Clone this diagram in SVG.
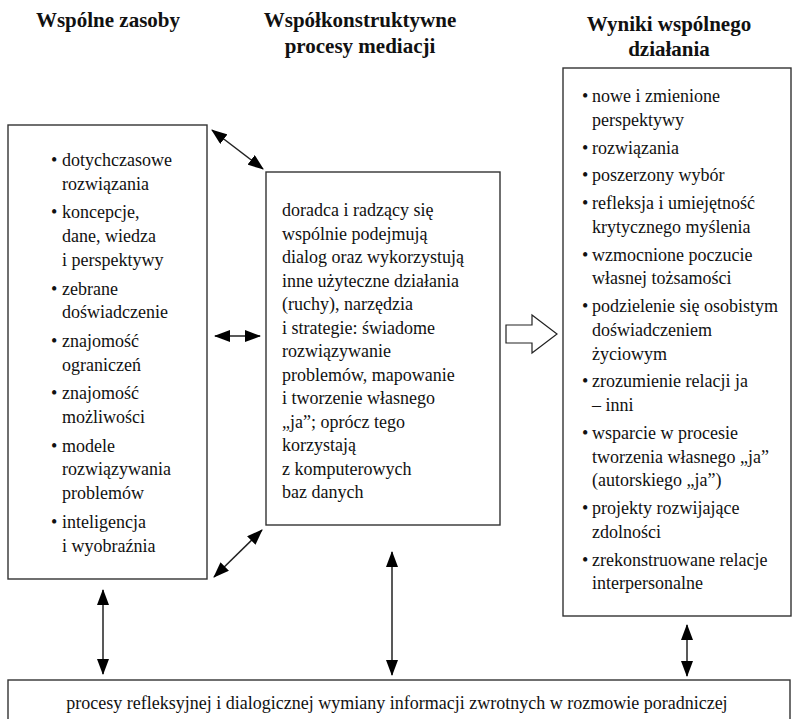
<svg xmlns="http://www.w3.org/2000/svg" width="793" height="719" viewBox="0 0 793 719">
<defs>
<marker id="ah" markerUnits="userSpaceOnUse" markerWidth="16" markerHeight="12" viewBox="0 0 16 12" refX="15" refY="6" orient="auto-start-reverse">
<path d="M0,0 L16,6 L0,12 z" fill="#000"/>
</marker>
<style>
.box{fill:#fff;stroke:#333;stroke-width:1.4}
.t{font-family:'Liberation Serif',Tinos,'Times New Roman','DejaVu Serif',serif;font-size:18px;fill:#111}
.h{font-family:'Liberation Serif',Tinos,'Times New Roman','DejaVu Serif',serif;font-size:21px;font-weight:bold;fill:#111;text-anchor:middle}
.c{stroke:#222;stroke-width:1.5;fill:none;marker-start:url(#ah);marker-end:url(#ah)}
</style>
</defs>
<rect width="793" height="719" fill="#fff"/>

<g id="titles" font-family="Liberation Serif, serif">
<text class="h" x="108" y="27">Wspólne zasoby</text>
<text class="h" x="360" y="27">Współkonstruktywne</text>
<text class="h" x="360" y="53">procesy mediacji</text>
<text class="h" x="669" y="31">Wyniki wspólnego</text>
<text class="h" x="669" y="56">działania</text>
</g>

<g id="connectors">
<line class="c" x1="212" y1="130" x2="263" y2="169"/>
<line class="c" x1="215" y1="336" x2="260" y2="336"/>
<line class="c" x1="214" y1="577" x2="262" y2="530"/>
<line class="c" x1="103" y1="590" x2="103" y2="674"/>
<line class="c" x1="392" y1="552" x2="392" y2="675"/>
<line class="c" x1="687" y1="625" x2="687" y2="676"/>
<polygon points="506,325 532,325 532,315 557,334 532,353 532,343 506,343" fill="#fff" stroke="#222" stroke-width="1.2"/>
</g>

<g id="resources">
<rect class="box" x="8" y="125" width="199" height="454"/>
<g class="t" font-family="Liberation Serif, serif">
<text x="51" y="166">•</text><text x="62" y="166">dotychczasowe</text>
<text x="62" y="189.7">rozwiązania</text>
<text x="51" y="218.4">•</text><text x="62" y="218.4">koncepcje,</text>
<text x="62" y="242.1">dane, wiedza</text>
<text x="62" y="265.8">i perspektywy</text>
<text x="51" y="294.5">•</text><text x="62" y="294.5">zebrane</text>
<text x="62" y="318.2">doświadczenie</text>
<text x="51" y="346.9">•</text><text x="62" y="346.9">znajomość</text>
<text x="62" y="370.6">ograniczeń</text>
<text x="51" y="399.3">•</text><text x="62" y="399.3">znajomość</text>
<text x="62" y="423">możliwości</text>
<text x="51" y="451.7">•</text><text x="62" y="451.7">modele</text>
<text x="62" y="475.4">rozwiązywania</text>
<text x="62" y="499.1">problemów</text>
<text x="51" y="527.8">•</text><text x="62" y="527.8">inteligencja</text>
<text x="62" y="551.5">i wyobraźnia</text>
</g>
</g>

<g id="mediation">
<rect class="box" x="266" y="172" width="234" height="353"/>
<g class="t" font-family="Liberation Serif, serif">
<text x="282" y="216">doradca i radzący się</text>
<text x="282" y="239.5">wspólnie podejmują</text>
<text x="282" y="263">dialog oraz wykorzystują</text>
<text x="282" y="286.5">inne użyteczne działania</text>
<text x="282" y="310">(ruchy), narzędzia</text>
<text x="282" y="333.5">i strategie: świadome</text>
<text x="282" y="357">rozwiązywanie</text>
<text x="282" y="380.5">problemów, mapowanie</text>
<text x="282" y="404">i tworzenie własnego</text>
<text x="282" y="427.5">„ja”; oprócz tego</text>
<text x="282" y="451">korzystają</text>
<text x="282" y="474.5">z komputerowych</text>
<text x="282" y="498">baz danych</text>
</g>
</g>

<g id="results">
<rect class="box" x="563" y="68" width="228" height="548"/>
<g class="t" font-family="Liberation Serif, serif">
<text x="582" y="102">•</text><text x="592" y="102">nowe i zmienione</text>
<text x="592" y="125.7">perspektywy</text>
<text x="582" y="153.5">•</text><text x="592" y="153.5">rozwiązania</text>
<text x="582" y="181.3">•</text><text x="592" y="181.3">poszerzony wybór</text>
<text x="582" y="209.1">•</text><text x="592" y="209.1">refleksja i umiejętność</text>
<text x="592" y="232.8">krytycznego myślenia</text>
<text x="582" y="260.6">•</text><text x="592" y="260.6">wzmocnione poczucie</text>
<text x="592" y="284.3">własnej tożsamości</text>
<text x="582" y="312.1">•</text><text x="592" y="312.1">podzielenie się osobistym</text>
<text x="592" y="335.8">doświadczeniem</text>
<text x="592" y="359.5">życiowym</text>
<text x="582" y="387.3">•</text><text x="592" y="387.3">zrozumienie relacji ja</text>
<text x="592" y="411">– inni</text>
<text x="582" y="438.8">•</text><text x="592" y="438.8">wsparcie w procesie</text>
<text x="592" y="462.5">tworzenia własnego „ja”</text>
<text x="592" y="486.2">(autorskiego „ja”)</text>
<text x="582" y="514">•</text><text x="592" y="514">projekty rozwijające</text>
<text x="592" y="537.7">zdolności</text>
<text x="582" y="565.5">•</text><text x="592" y="565.5">zrekonstruowane relacje</text>
<text x="592" y="589.2">interpersonalne</text>
</g>
</g>

<g id="feedback">
<rect class="box" x="8" y="680" width="782" height="60"/>
<text class="t" font-family="Liberation Serif, serif" x="397" y="709" text-anchor="middle">procesy refleksyjnej i dialogicznej wymiany informacji zwrotnych w rozmowie poradniczej</text>
</g>
</svg>
